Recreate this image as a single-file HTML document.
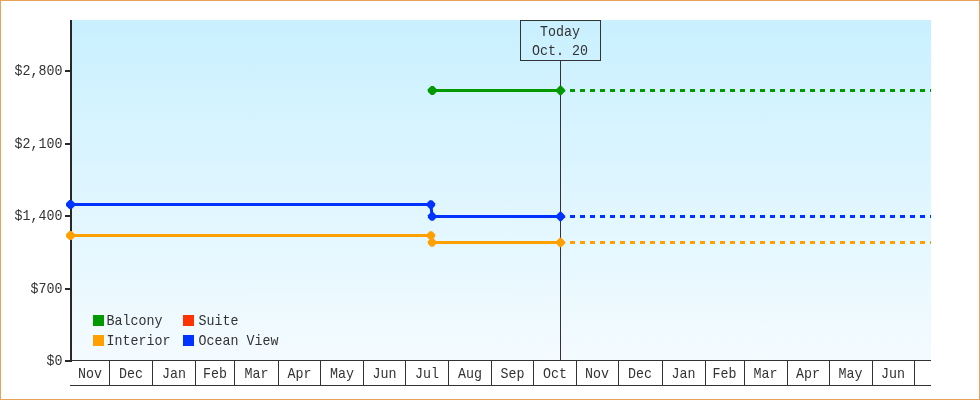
<!DOCTYPE html>
<html><head><meta charset="utf-8"><title>Price chart</title>
<style>
html,body{margin:0;padding:0;background:#fff;}
body{width:980px;height:400px;overflow:hidden;}
#wrap{position:relative;width:978px;height:398px;border:1px solid #E8A25A;background:#fff;}
svg{position:absolute;left:-1px;top:-1px;will-change:transform;}
text{font-family:"Liberation Mono",monospace;font-size:13.33px;fill:#333;}
</style></head><body><div id="wrap">
<svg width="980" height="400" viewBox="0 0 980 400">
<defs><linearGradient id="bg" x1="0" y1="0" x2="0" y2="1"><stop offset="0" stop-color="#C9F0FF"/><stop offset="1" stop-color="#F4FBFF"/></linearGradient></defs>

<rect x="72" y="20" width="859" height="340" fill="url(#bg)"/>
<g shape-rendering="crispEdges" fill="#333">
<rect x="72" y="360" width="859" height="1"/>
<rect x="70" y="385" width="861" height="1"/>
<rect x="109" y="360" width="1" height="26"/>
<rect x="152" y="360" width="1" height="26"/>
<rect x="195" y="360" width="1" height="26"/>
<rect x="234" y="360" width="1" height="26"/>
<rect x="278" y="360" width="1" height="26"/>
<rect x="320" y="360" width="1" height="26"/>
<rect x="363" y="360" width="1" height="26"/>
<rect x="405" y="360" width="1" height="26"/>
<rect x="448" y="360" width="1" height="26"/>
<rect x="491" y="360" width="1" height="26"/>
<rect x="533" y="360" width="1" height="26"/>
<rect x="576" y="360" width="1" height="26"/>
<rect x="618" y="360" width="1" height="26"/>
<rect x="662" y="360" width="1" height="26"/>
<rect x="705" y="360" width="1" height="26"/>
<rect x="744" y="360" width="1" height="26"/>
<rect x="787" y="360" width="1" height="26"/>
<rect x="829" y="360" width="1" height="26"/>
<rect x="872" y="360" width="1" height="26"/>
<rect x="914" y="360" width="1" height="26"/>
<rect x="560" y="60" width="1" height="300"/>
<rect x="70" y="20" width="2" height="342" fill="#282828"/>
<rect x="65" y="70" width="5" height="2" fill="#282828"/>
<rect x="65" y="143" width="5" height="2" fill="#282828"/>
<rect x="65" y="215" width="5" height="2" fill="#282828"/>
<rect x="65" y="288" width="5" height="2" fill="#282828"/>
<rect x="65" y="360" width="5" height="2" fill="#282828"/>
</g>
<rect x="520.5" y="20.5" width="80" height="40" fill="none" stroke="#333" stroke-width="1" shape-rendering="crispEdges"/>
<text transform="translate(559.9,36.3) scale(1,1.08)" text-anchor="middle">Today</text>
<text transform="translate(559.9,55) scale(1,1.08)" text-anchor="middle">Oct. 20</text>
<text transform="translate(62.5,74.8) scale(1,1.08)" text-anchor="end">$2,800</text>
<text transform="translate(62.5,147.8) scale(1,1.08)" text-anchor="end">$2,100</text>
<text transform="translate(62.5,219.8) scale(1,1.08)" text-anchor="end">$1,400</text>
<text transform="translate(62.5,292.8) scale(1,1.08)" text-anchor="end">$700</text>
<text transform="translate(62.5,364.8) scale(1,1.08)" text-anchor="end">$0</text>
<text transform="translate(90.1,377.8) scale(1,1.08)" text-anchor="middle">Nov</text>
<text transform="translate(131,377.8) scale(1,1.08)" text-anchor="middle">Dec</text>
<text transform="translate(174,377.8) scale(1,1.08)" text-anchor="middle">Jan</text>
<text transform="translate(215,377.8) scale(1,1.08)" text-anchor="middle">Feb</text>
<text transform="translate(256.5,377.8) scale(1,1.08)" text-anchor="middle">Mar</text>
<text transform="translate(299.5,377.8) scale(1,1.08)" text-anchor="middle">Apr</text>
<text transform="translate(342,377.8) scale(1,1.08)" text-anchor="middle">May</text>
<text transform="translate(384.5,377.8) scale(1,1.08)" text-anchor="middle">Jun</text>
<text transform="translate(427,377.8) scale(1,1.08)" text-anchor="middle">Jul</text>
<text transform="translate(470,377.8) scale(1,1.08)" text-anchor="middle">Aug</text>
<text transform="translate(512.5,377.8) scale(1,1.08)" text-anchor="middle">Sep</text>
<text transform="translate(555,377.8) scale(1,1.08)" text-anchor="middle">Oct</text>
<text transform="translate(597,377.8) scale(1,1.08)" text-anchor="middle">Nov</text>
<text transform="translate(640,377.8) scale(1,1.08)" text-anchor="middle">Dec</text>
<text transform="translate(683.5,377.8) scale(1,1.08)" text-anchor="middle">Jan</text>
<text transform="translate(724.5,377.8) scale(1,1.08)" text-anchor="middle">Feb</text>
<text transform="translate(765.5,377.8) scale(1,1.08)" text-anchor="middle">Mar</text>
<text transform="translate(808,377.8) scale(1,1.08)" text-anchor="middle">Apr</text>
<text transform="translate(850.5,377.8) scale(1,1.08)" text-anchor="middle">May</text>
<text transform="translate(893,377.8) scale(1,1.08)" text-anchor="middle">Jun</text>
<path d="M70.5 235.5 L430.9 235.5 L432.1 242.5 L560.5 242.5" fill="none" stroke="#FFA000" stroke-width="3" stroke-linejoin="round"/>
<path d="M570 242.5 H931" fill="none" stroke="#FFA000" stroke-width="3" stroke-dasharray="5 5"/>
<polygon points="69.25,231 71.75,231 75,234.25 75,236.75 71.75,240 69.25,240 66,236.75 66,234.25" fill="#FFA000"/>
<polygon points="429.65,231.3 432.15,231.3 435.1,234.25 435.1,236.75 432.15,239.7 429.65,239.7 426.7,236.75 426.7,234.25" fill="#FFA000"/>
<polygon points="430.85,238.3 433.35,238.3 436.3,241.25 436.3,243.75 433.35,246.7 430.85,246.7 427.9,243.75 427.9,241.25" fill="#FFA000"/>
<polygon points="559.7,237.8 561.3,237.8 565.2,241.7 565.2,243.3 561.3,247.2 559.7,247.2 555.8,243.3 555.8,241.7" fill="#FFA000"/>
<path d="M70.5 204.5 L430.9 204.5 L432.1 216.5 L560.5 216.5" fill="none" stroke="#0033FF" stroke-width="3" stroke-linejoin="round"/>
<path d="M570 216.5 H931" fill="none" stroke="#0033FF" stroke-width="3" stroke-dasharray="5 5"/>
<polygon points="69.25,200 71.75,200 75,203.25 75,205.75 71.75,209 69.25,209 66,205.75 66,203.25" fill="#0033FF"/>
<polygon points="429.65,200.3 432.15,200.3 435.1,203.25 435.1,205.75 432.15,208.7 429.65,208.7 426.7,205.75 426.7,203.25" fill="#0033FF"/>
<polygon points="430.85,212.3 433.35,212.3 436.3,215.25 436.3,217.75 433.35,220.7 430.85,220.7 427.9,217.75 427.9,215.25" fill="#0033FF"/>
<polygon points="559.7,211.8 561.3,211.8 565.2,215.7 565.2,217.3 561.3,221.2 559.7,221.2 555.8,217.3 555.8,215.7" fill="#0033FF"/>
<path d="M432.3 90.5 L560.5 90.5" fill="none" stroke="#009900" stroke-width="3" stroke-linejoin="round"/>
<path d="M570 90.5 H931" fill="none" stroke="#009900" stroke-width="3" stroke-dasharray="5 5"/>
<polygon points="431.05,86 433.55,86 436.8,89.25 436.8,91.75 433.55,95 431.05,95 427.8,91.75 427.8,89.25" fill="#009900"/>
<polygon points="559.7,85.8 561.3,85.8 565.2,89.7 565.2,91.3 561.3,95.2 559.7,95.2 555.8,91.3 555.8,89.7" fill="#009900"/>
<rect x="93" y="315" width="11" height="11" fill="#009900" shape-rendering="crispEdges"/>
<text transform="translate(106.5,324.8) scale(1,1.08)" text-anchor="start">Balcony</text>
<rect x="183" y="315" width="11" height="11" fill="#FF3300" shape-rendering="crispEdges"/>
<text transform="translate(198.5,324.8) scale(1,1.08)" text-anchor="start">Suite</text>
<rect x="93" y="335" width="11" height="11" fill="#FFA000" shape-rendering="crispEdges"/>
<text transform="translate(106.5,344.8) scale(1,1.08)" text-anchor="start">Interior</text>
<rect x="183" y="335" width="11" height="11" fill="#0033FF" shape-rendering="crispEdges"/>
<text transform="translate(198.5,344.8) scale(1,1.08)" text-anchor="start">Ocean View</text>
</svg></div></body></html>
